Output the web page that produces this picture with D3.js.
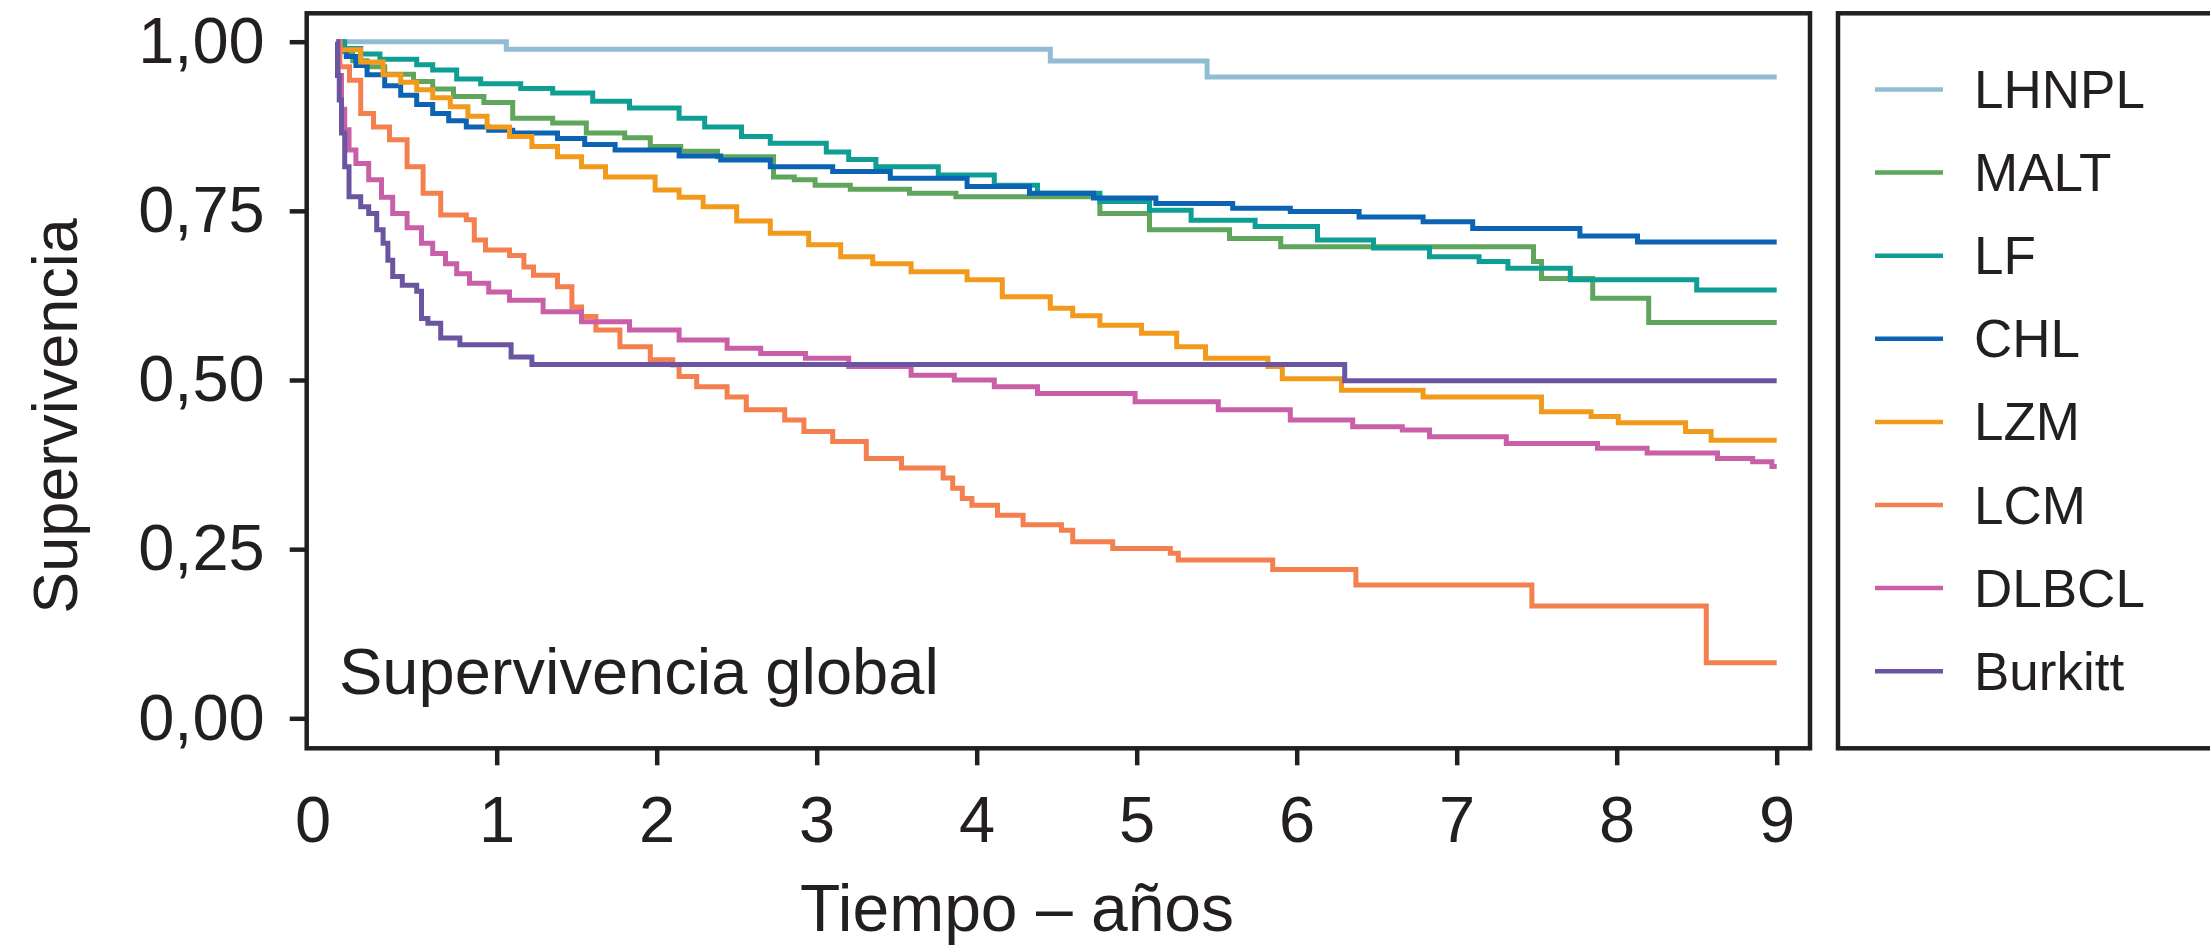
<!DOCTYPE html>
<html>
<head>
<meta charset="utf-8">
<script src="https://cdn.jsdelivr.net/npm/d3@7"></script>
<style>
  body { margin: 0; background: #fff; }
  text { font-family: 'Liberation Sans', Arial, sans-serif; fill: #231f20; }
</style>
</head>
<body>
<svg id="km"></svg>
<script>
// survival curves, [years, survival]
const lhnpl = [[0,1],[1.06,0.989],[4.46,0.9715],[5.44,0.948],[9,0.948]];
const malt = [[0,1],[0.03,0.985],[0.1,0.972],[0.19,0.963],[0.3,0.952],[0.48,0.941],[0.6,0.93],[0.73,0.919],[0.92,0.91],[1.1,0.887],[1.35,0.88],[1.56,0.865],[1.8,0.858],[1.96,0.845],[2.15,0.838],[2.38,0.83],[2.73,0.8],[2.86,0.796],[2.99,0.788],[3.21,0.782],[3.58,0.776],[3.87,0.771],[4.77,0.746],[5.08,0.722],[5.58,0.709],[5.9,0.697],[7.48,0.675],[7.53,0.65],[7.85,0.621],[8.2,0.585],[9,0.585]];
const lf = [[0,1],[0.05,0.99],[0.15,0.982],[0.27,0.974],[0.5,0.966],[0.6,0.958],[0.75,0.945],[0.9,0.938],[1.15,0.931],[1.35,0.924],[1.6,0.912],[1.83,0.902],[2.14,0.887],[2.3,0.874],[2.53,0.86],[2.71,0.85],[3.06,0.837],[3.2,0.826],[3.37,0.815],[3.76,0.803],[4.11,0.788],[4.38,0.776],[4.77,0.764],[5.08,0.751],[5.34,0.736],[5.74,0.727],[6.13,0.707],[6.48,0.695],[6.83,0.682],[7.14,0.675],[7.32,0.665],[7.71,0.648],[8.5,0.633],[9,0.633]];
const chl = [[0,1],[0.02,0.988],[0.06,0.978],[0.12,0.965],[0.19,0.951],[0.3,0.935],[0.4,0.921],[0.5,0.907],[0.6,0.894],[0.7,0.883],[0.81,0.874],[0.95,0.869],[1.1,0.865],[1.38,0.857],[1.55,0.848],[1.74,0.84],[2.14,0.831],[2.4,0.825],[2.71,0.815],[3.1,0.808],[3.46,0.798],[3.94,0.786],[4.33,0.776],[4.73,0.769],[5.12,0.761],[5.6,0.754],[5.96,0.749],[6.39,0.741],[6.79,0.734],[7.1,0.724],[7.77,0.713],[8.13,0.704],[9,0.704]];
const lzm = [[0,1],[0.02,0.988],[0.15,0.97],[0.29,0.951],[0.4,0.94],[0.5,0.929],[0.6,0.917],[0.71,0.904],[0.82,0.89],[0.94,0.874],[1.08,0.86],[1.22,0.845],[1.38,0.83],[1.53,0.815],[1.68,0.8],[1.99,0.781],[2.14,0.77],[2.29,0.756],[2.5,0.735],[2.71,0.717],[2.95,0.7],[3.15,0.682],[3.35,0.672],[3.59,0.66],[3.94,0.648],[4.16,0.623],[4.46,0.606],[4.6,0.595],[4.77,0.581],[5.03,0.569],[5.25,0.549],[5.43,0.532],[5.82,0.52],[5.91,0.502],[6.28,0.485],[6.79,0.475],[7.53,0.453],[7.84,0.446],[8.01,0.437],[8.43,0.424],[8.59,0.411],[9,0.411]];
const lcm = [[0,1],[0.02,0.963],[0.08,0.943],[0.15,0.894],[0.23,0.874],[0.33,0.855],[0.44,0.815],[0.54,0.776],[0.65,0.744],[0.81,0.737],[0.86,0.707],[0.93,0.692],[1.08,0.684],[1.17,0.667],[1.23,0.655],[1.38,0.638],[1.47,0.608],[1.53,0.594],[1.62,0.574],[1.77,0.549],[1.96,0.53],[2.1,0.522],[2.14,0.505],[2.25,0.49],[2.44,0.475],[2.56,0.456],[2.8,0.441],[2.92,0.424],[3.1,0.409],[3.31,0.384],[3.53,0.37],[3.79,0.355],[3.85,0.34],[3.91,0.325],[3.97,0.315],[4.13,0.3],[4.29,0.286],[4.53,0.278],[4.6,0.261],[4.85,0.251],[5.21,0.244],[5.26,0.234],[5.85,0.22],[6.37,0.197],[7.47,0.166],[8.56,0.082],[9,0.082]];
const dlbcl = [[0,1],[0.01,0.95],[0.03,0.9],[0.05,0.87],[0.077,0.84],[0.12,0.82],[0.2,0.796],[0.28,0.77],[0.35,0.746],[0.44,0.725],[0.53,0.702],[0.6,0.687],[0.68,0.672],[0.75,0.657],[0.83,0.643],[0.95,0.63],[1.08,0.618],[1.29,0.601],[1.53,0.586],[1.83,0.574],[2.14,0.559],[2.44,0.547],[2.65,0.539],[2.93,0.532],[3.2,0.52],[3.59,0.507],[3.86,0.5],[4.11,0.49],[4.38,0.48],[4.99,0.468],[5.51,0.456],[5.96,0.441],[6.35,0.431],[6.66,0.426],[6.83,0.416],[7.31,0.406],[7.88,0.399],[8.19,0.392],[8.63,0.384],[8.85,0.379],[8.97,0.372],[9,0.372]];
const burkitt = [[0,1],[0.005,0.95],[0.016,0.914],[0.03,0.865],[0.05,0.815],[0.077,0.771],[0.15,0.756],[0.2,0.746],[0.25,0.722],[0.29,0.702],[0.32,0.677],[0.35,0.653],[0.41,0.64],[0.5,0.631],[0.53,0.591],[0.57,0.584],[0.65,0.562],[0.77,0.552],[1.09,0.534],[1.22,0.523],[6.3,0.499],[9,0.499]];

const names = ['LHNPL', 'MALT', 'LF', 'CHL', 'LZM', 'LCM', 'DLBCL', 'Burkitt'];
const curves = [lhnpl, malt, lf, chl, lzm, lcm, dlbcl, burkitt];
const colors = ['#92bcd3', '#5fa55b', '#0f9e94', '#0d63b3', '#f29a1c', '#f47f4f', '#c95fa6', '#6b55a0'];
const xTicks = [0, 1, 2, 3, 4, 5, 6, 7, 8, 9];
const yTicks = [0, 0.25, 0.5, 0.75, 1];

const w = 2210, h = 946;
const svg = d3.select('#km').attr('width', w).attr('height', h);

const frame = {left: 306.7, top: 13.3, right: 1810, bottom: 748.3};

const xScale = d3.scaleLinear().domain([0, 9]).range([336.7, 1776.7]);
const yScale = d3.scaleLinear().domain([0, 1]).range([718.3, 41.7]);

const comma = d => d3.format('.2f')(d).replace('.', ',');

// y axis
const yAxisG = svg.append('g')
    .attr('transform', `translate(${frame.left},0)`)
    .call(d3.axisLeft(yScale).tickValues(yTicks).tickFormat(comma).tickSize(17).tickPadding(25));
yAxisG.select('.domain').remove();

// x axis
const xAxisG = svg.append('g')
    .attr('transform', `translate(0,${frame.bottom})`)
    .call(d3.axisBottom(xScale).tickValues(xTicks).tickSize(17).tickPadding(31));
xAxisG.select('.domain').remove();
xAxisG.selectAll('.tick').filter(d => d === 0).select('line').remove();
xAxisG.selectAll('.tick').filter(d => d === 0).select('text').attr('x', -24);

svg.selectAll('.tick line').attr('stroke', '#231f20').attr('stroke-width', 4.5);
svg.selectAll('.tick text')
    .attr('font-family', "'Liberation Sans', Arial, sans-serif")
    .attr('font-size', 65)
    .attr('fill', '#231f20');

// curves
const line = d3.line()
    .x(d => xScale(d[0]))
    .y(d => yScale(d[1]))
    .curve(d3.curveStepAfter);

svg.append('g').selectAll('path').data(curves)
    .enter().append('path')
        .attr('d', line)
        .attr('fill', 'none')
        .attr('stroke', (d, i) => colors[i])
        .attr('stroke-width', 5);

// plot frame
svg.append('rect')
    .attr('x', frame.left)
    .attr('y', frame.top)
    .attr('width', frame.right - frame.left)
    .attr('height', frame.bottom - frame.top)
    .attr('fill', 'none')
    .attr('stroke', '#231f20')
    .attr('stroke-width', 4.5);

svg.append('text')
    .attr('x', 339)
    .attr('y', 694)
    .attr('font-size', 65)
    .text('Supervivencia global');

// axis titles
svg.append('text')
    .attr('x', 1017)
    .attr('y', 931)
    .attr('text-anchor', 'middle')
    .attr('font-size', 66)
    .text('Tiempo – años');

svg.append('text')
    .attr('transform', 'translate(77,416) rotate(-90)')
    .attr('text-anchor', 'middle')
    .attr('font-size', 63)
    .text('Supervivencia');

// legend
const legend = svg.append('g');
legend.append('rect')
    .attr('x', 1838)
    .attr('y', frame.top)
    .attr('width', 420)
    .attr('height', frame.bottom - frame.top)
    .attr('fill', 'none')
    .attr('stroke', '#231f20')
    .attr('stroke-width', 4.5);

const item = legend.selectAll('.item').data(names)
    .enter().append('g')
        .attr('class', 'item')
        .attr('transform', (d, i) => `translate(0,${89.5 + i * 83.1})`);

item.append('line')
    .attr('x1', 1875).attr('x2', 1943)
    .attr('stroke', (d, i) => colors[i])
    .attr('stroke-width', 4.5);

item.append('text')
    .attr('x', 1974)
    .attr('dy', '0.35em')
    .attr('font-size', 53)
    .text(d => d);
</script>
</body>
</html>
